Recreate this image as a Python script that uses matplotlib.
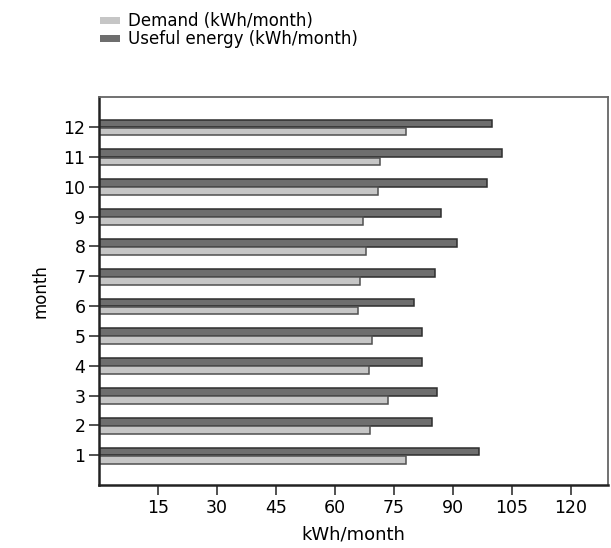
import matplotlib
matplotlib.use("Agg")
import matplotlib.pyplot as plt
from matplotlib.patches import Patch
import numpy as np

months = [1, 2, 3, 4, 5, 6, 7, 8, 9, 10, 11, 12]
demand = [78.0, 69.0, 73.6, 68.6, 69.4, 65.8, 66.5, 67.8, 67.2, 71.0, 71.4, 78.0]
useful = [96.6, 84.8, 85.9, 82.1, 82.3, 80.2, 85.4, 91.1, 86.9, 98.6, 102.5, 100.1]
xticks = [15, 30, 45, 60, 75, 90, 105, 120]
labels = ["Demand (kWh/month)", "Useful energy (kWh/month)"]

plt.rcParams['font.family'] = ['DejaVu Sans']

fig = plt.figure(figsize=(6.11, 5.48), dpi=100)
ax = fig.add_axes([0.1625, 0.115, 0.833, 0.7075])

y = np.array(months, dtype=float)
h = 0.26
light = "#c6c6c6"
dark = "#6e6e6e"
ax.barh(y + 0.12, useful, height=h, color=dark, edgecolor="#2e2e2e", linewidth=1.1)
ax.barh(y - 0.15, demand, height=h, color=light, edgecolor="#505050", linewidth=1.1)

ax.set_xlim(0, 129.6)
ax.set_ylim(0, 13)
ax.set_xticks(xticks)
ax.set_yticks(months)
ax.tick_params(axis='both', labelsize=12.5, length=7, width=1.2, color="#333333",
               direction='out', pad=3)
ax.set_xlabel("kWh/month", fontsize=13, labelpad=6)
ax.set_ylabel("month", fontsize=12, labelpad=10)

for s in ['left', 'bottom']:
    ax.spines[s].set_linewidth(1.8)
    ax.spines[s].set_color("#222222")
for s in ['top', 'right']:
    ax.spines[s].set_linewidth(1.3)
    ax.spines[s].set_color("#666666")

handles = [Patch(facecolor=light, edgecolor="none"), Patch(facecolor=dark, edgecolor="none")]
fig.legend(handles, labels, loc='upper left', bbox_to_anchor=(0.148, 0.996),
           frameon=False, fontsize=12, handlelength=1.15, handleheight=0.3,
           handletextpad=0.5, labelspacing=0.0, borderaxespad=0.2)

fig.savefig("out.png", dpi=100)
